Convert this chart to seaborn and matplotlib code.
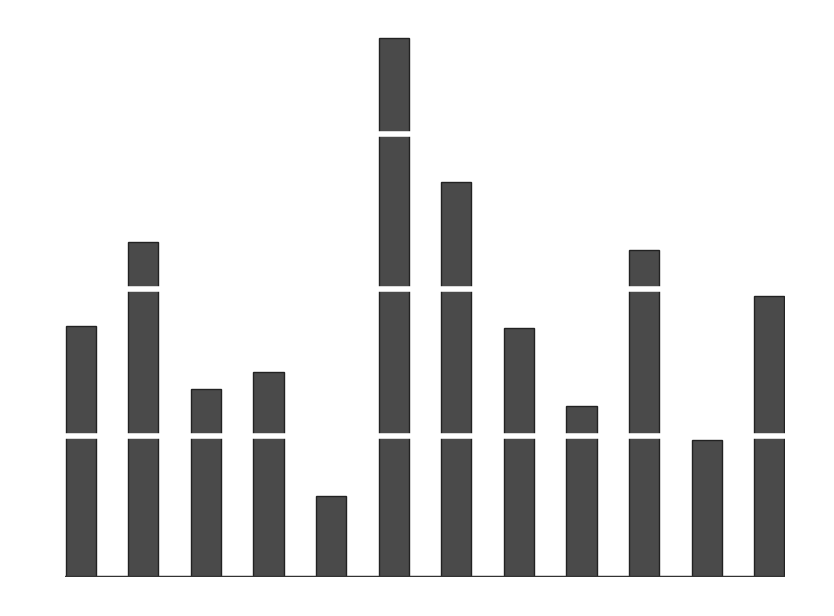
import matplotlib
matplotlib.use("Agg")
import matplotlib.pyplot as plt
import seaborn as sns
import pandas as pd

categories = [str(i) for i in range(1, 13)]
values = [251, 335, 188, 205, 81, 539, 395, 249, 171, 327, 137, 281]
grid_levels = [141, 288, 443]

sns.set_style("white")
df = pd.DataFrame({"cat": categories, "val": values})
fig = plt.figure(figsize=(8.34, 6.16), dpi=100)
ax = fig.add_axes([65/834, 39/616, 720/834, 560/616])
sns.barplot(data=df, x="cat", y="val", color="#4a4a4a", saturation=1,
            width=0.48, edgecolor="#222222", linewidth=1, ax=ax, zorder=2)
for g in grid_levels:
    ax.axhline(g, color="white", lw=4, zorder=3)
ax.set_xlim(-0.25, 11.25)
ax.set_ylim(0, 560)
ax.set_axis_off()
ax.axhline(0, color="#333333", lw=2.5, zorder=4)
fig.savefig("out.png", dpi=100)
